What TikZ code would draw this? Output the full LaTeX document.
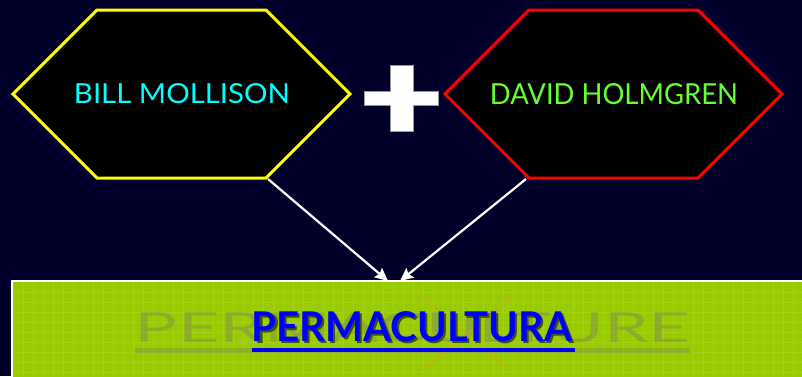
\documentclass[tikz,border=0pt]{standalone}
\usepackage{fontspec}
\setmainfont{Lato}
\usetikzlibrary{arrows.meta}
\definecolor{bgnavy}{HTML}{00002A}
\definecolor{leaf}{HTML}{99CC00}
\definecolor{leafgrid}{HTML}{A6D21E}
\definecolor{billcyan}{HTML}{00FFFF}
\definecolor{davegreen}{HTML}{66FF33}
\definecolor{hexyellow}{HTML}{FFFF00}
\definecolor{hexred}{HTML}{FF0000}
\definecolor{permblue}{HTML}{0000FF}
\definecolor{crossorange}{HTML}{E09A30}
\colorlet{permshadowc}{leaf!40!bgnavy}
\tikzset{
  hexborder/.style={fill=black, line width=3pt, line join=miter},
  nametext/.style={inner sep=0pt, outer sep=0pt},
  gridline/.style={draw=leafgrid, line width=0.7pt, opacity=0.8},
  linkarrow/.style={draw=white, line width=2.2pt, -{Stealth[length=13pt,width=12pt,inset=2pt]}},
}
\newcommand\permword{\resizebox{320pt}{30pt}{\bfseries PERMACULTURA}}
\begin{document}
\begin{tikzpicture}[x=1pt,y=-1pt]
\useasboundingbox (0,0) rectangle (802,376);
\fill[bgnavy] (0,0) rectangle (802,376);
% green box
\node[anchor=north west, fill=leaf, minimum width=795pt, minimum height=100pt, inner sep=0pt, outer sep=0pt] (box) at (12,281) {};
\begin{scope}
\clip (12,281) rectangle (802,376);
\foreach \i in {23,33,...,802} \draw[gridline] (\i,282) -- (\i,376);
\foreach \j in {292,302,...,376} \draw[gridline] (12,\j) -- (802,\j);
\end{scope}
\draw[white, line width=1.8pt] (12,380) -- (12,281) -- (805,281);
% faded old word
\node[nametext, text=black!55, opacity=0.35] (old) at (412.5,328) {\resizebox{555pt}{30pt}{PERMACULTURE}};
\fill[black!55, opacity=0.3] (135,348) rectangle (690,353);
\draw[crossorange, line width=1.5pt, opacity=0.55] (423,298) -- (510,370) (510,298) -- (423,370);
% new word with shadow
\node[nametext] (perm) at (412,328) {\rlap{\hspace{2pt}\raisebox{-2pt}{\textcolor{permshadowc}{\permword}}}\textcolor{permblue}{\permword}};
\fill[permblue] (252,348) rectangle (575,352);
% hexagons
\draw[hexborder, draw=hexyellow] (13,94) -- (97,10) -- (266,10) -- (350,94) -- (266,178) -- (97,178) -- cycle;
\draw[hexborder, draw=hexred] (445,94) -- (529,10) -- (698,10) -- (782,94) -- (698,178) -- (529,178) -- cycle;
\coordinate (billfoot) at (268,179);
\coordinate (davefoot) at (526,179);
\node[nametext, text=billcyan] (bill) at (182,94) {\resizebox{216pt}{20pt}{BILL MOLLISON}};
\node[nametext, text=davegreen] (dave) at (614,94) {\resizebox{248pt}{21pt}{DAVID HOLMGREN}};
% plus
\filldraw[fill=white, draw=black!40, line width=0.8pt] (390,65) -- (413,65) -- (413,91) -- (438,91) -- (438,105) -- (413,105) -- (413,131) -- (390,131) -- (390,105) -- (364,105) -- (364,91) -- (390,91) -- cycle;
% arrows
\coordinate (tipL) at (388,281);
\coordinate (tipR) at (400,281);
\draw[linkarrow] (billfoot) -- (tipL);
\draw[linkarrow] (davefoot) -- (tipR);
\end{tikzpicture}
\end{document}
